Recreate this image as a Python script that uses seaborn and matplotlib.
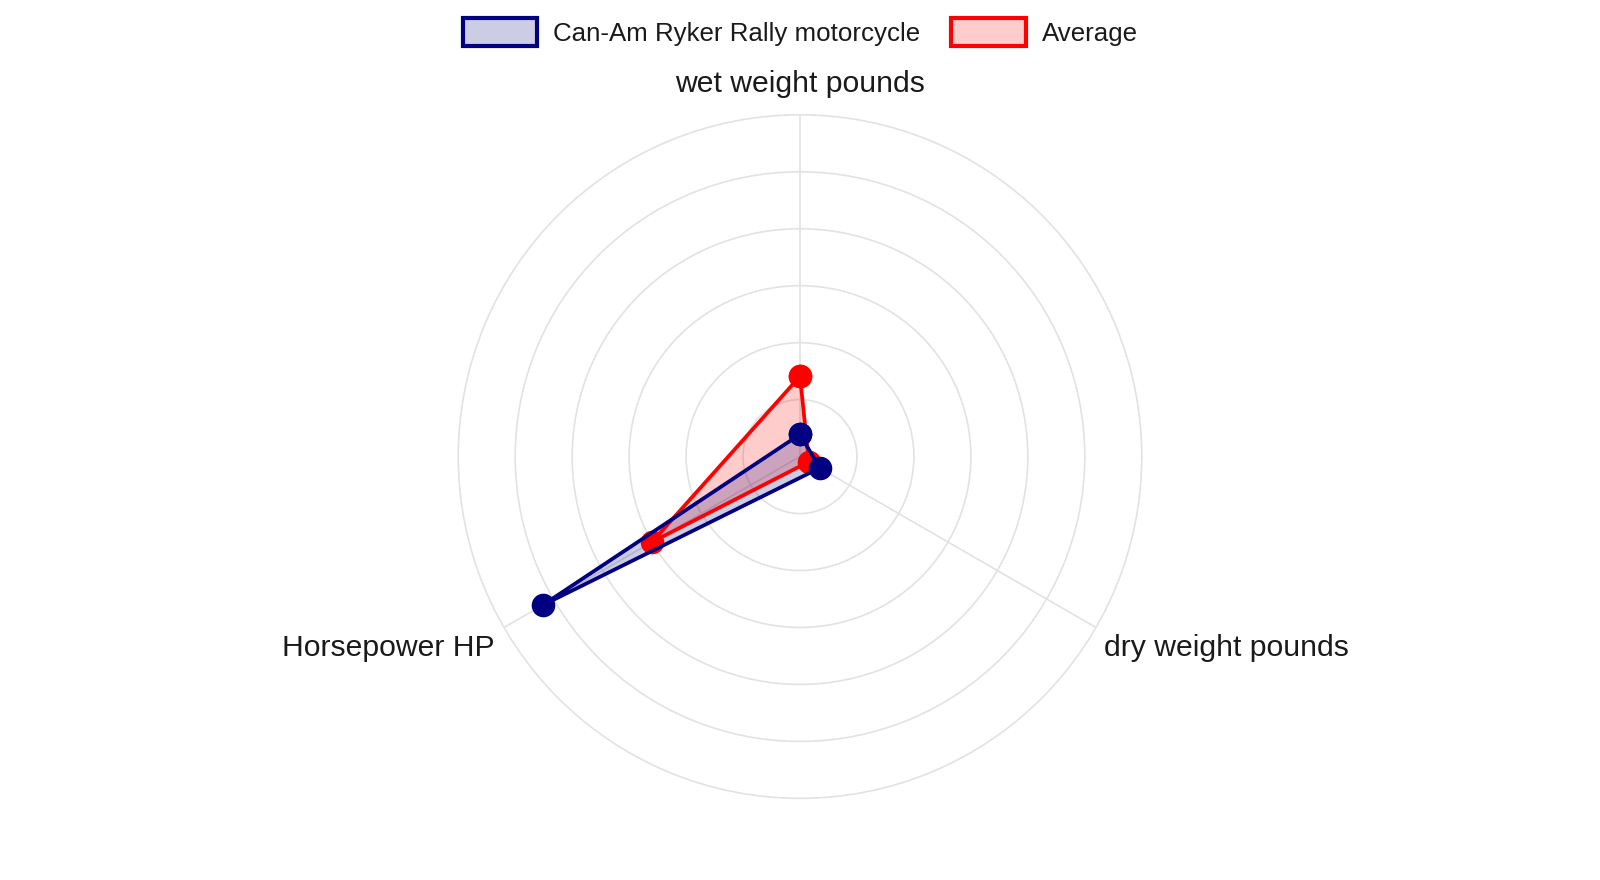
import numpy as np
import pandas as pd
import matplotlib
matplotlib.use("Agg")
import matplotlib.pyplot as plt
from matplotlib.patches import Patch
import seaborn as sns

categories = ["wet weight pounds", "dry weight pounds", "Horsepower HP"]
series_names = ["Can-Am Ryker Rally motorcycle", "Average"]
ryker_values = [0.39, 0.40, 5.22]
average_values = [1.41, 0.18, 3.00]

sns.set_theme(style="white")
plt.rcParams["font.family"] = ["Liberation Sans", "DejaVu Sans"]

fig = plt.figure(figsize=(16, 8.8), dpi=100)
ax = fig.add_axes([0.2864, 0.0925, 0.4272, 0.7773], projection="polar")

angles_deg = [90, 330, 210]
theta = np.deg2rad(angles_deg)

colors = {"Can-Am Ryker Rally motorcycle": "#000080", "Average": "#ff0000"}
fills = {"Can-Am Ryker Rally motorcycle": (0, 0, 0.5, 0.2), "Average": (1, 0, 0, 0.2)}

data = {"Can-Am Ryker Rally motorcycle": ryker_values, "Average": average_values}
for name in ["Average", "Can-Am Ryker Rally motorcycle"]:
    vals = data[name]
    t = np.append(theta, theta[0])
    r = np.append(vals, vals[0])
    df = pd.DataFrame({"t": t, "r": r})
    ax.fill(t, r, color=fills[name], zorder=2)
    sns.lineplot(data=df, x="t", y="r", sort=False, color=colors[name], linewidth=2.7,
                 marker="o", markersize=17, markeredgewidth=0, ax=ax, zorder=3, estimator=None)

ax.set_ylim(0, 6)
ax.set_yticks([1, 2, 3, 4, 5])
ax.set_yticklabels([])
ax.set_xticks(theta)
ax.set_xticklabels([])
ax.set_xlabel("")
ax.set_ylabel("")
ax.grid(True, color="#e2e2e2", linewidth=1.2)
ax.spines["polar"].set_color("#e2e2e2")
ax.spines["polar"].set_linewidth(1.2)
ax.tick_params(length=0)

fig.text(800 / 1600, 1 - 84 / 880, categories[0], ha="center", va="center", fontsize=21.7, color="#1a1a1a")
fig.text(1104 / 1600, 1 - 648 / 880, categories[1], ha="left", va="center", fontsize=21.7, color="#1a1a1a")
fig.text(495 / 1600, 1 - 648 / 880, categories[2], ha="right", va="center", fontsize=21.7, color="#1a1a1a")

handles = [Patch(facecolor=fills[n], edgecolor=colors[n], linewidth=3, label=n) for n in series_names]
fig.legend(handles=handles, loc="center", bbox_to_anchor=(0.5, 1 - 32 / 880), ncol=2,
           frameon=False, fontsize=18.6, handlelength=2.9, handleheight=1.3, columnspacing=1.2,
           handletextpad=0.6, labelcolor="#1a1a1a")

fig.savefig("out.png", dpi=100)
